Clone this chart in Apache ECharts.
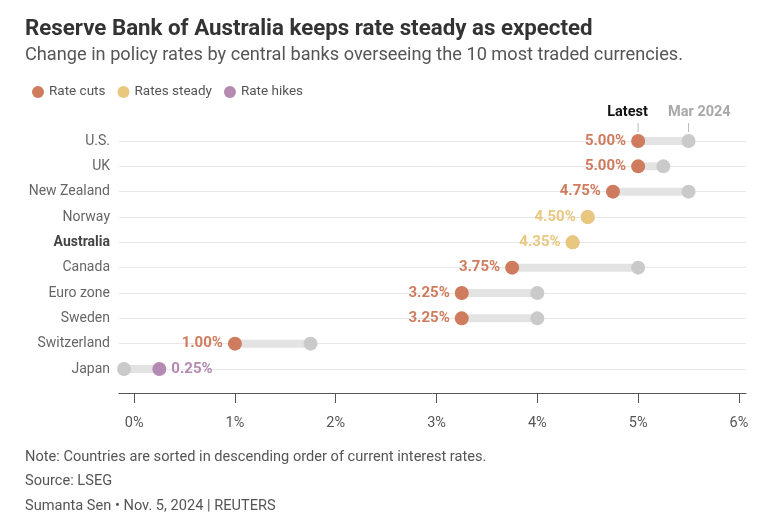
<!DOCTYPE html>
<html><head><meta charset="utf-8">
<script src="https://cdn.jsdelivr.net/npm/echarts@6/dist/echarts.min.js"></script>
<style>html,body{margin:0;padding:0;background:#fff;}#c{width:778px;height:531px;}</style>
</head><body><div id="c"></div>
<script>
const categories = ['U.S.','UK','New Zealand','Norway','Australia','Canada','Euro zone','Sweden','Switzerland','Japan'];
const latest = [5.00,5.00,4.75,4.50,4.35,3.75,3.25,3.25,1.00,0.25];
const mar2024 = [5.50,5.25,5.50,4.50,4.35,5.00,4.00,4.00,1.75,-0.10];
const xTicks = [0,1,2,3,4,5,6];
const groups = ['Rate cuts','Rates steady','Rate hikes'];
const groupColors = ['#cf7b5d','#e9c77e','#b58ab2'];
const highlight = 'Australia';
const annotations = ['Latest','Mar 2024'];
const titleText = 'Reserve Bank of Australia keeps rate steady as expected';
const subtitleText = 'Change in policy rates by central banks overseeing the 10 most traded currencies.';
const footerLines = ['Note: Countries are sorted in descending order of current interest rates.', 'Source: LSEG', 'Sumanta Sen \u2022 Nov. 5, 2024 | REUTERS'];

const FONT = 'Roboto';
const ctx = document.createElement('canvas').getContext('2d');
function fitSize(text, weight, target) {
  ctx.font = weight + ' 100px ' + FONT;
  return Math.round(100 * target / ctx.measureText(text).width * 10) / 10;
}
const titleSize = fitSize(titleText, 'bold', 567);
const subSize = fitSize(subtitleText, 'normal', 657);
const footSize = fitSize(footerLines[0], 'normal', 460);

function groupOf(i){ return latest[i] < mar2024[i] ? 0 : (latest[i] === mar2024[i] ? 1 : 2); }

const dotSeries = groups.map((g, gi) => ({
  name: g,
  type: 'scatter',
  symbol: 'circle',
  symbolSize: 14,
  clip: false,
  z: 5,
  itemStyle: { color: groupColors[gi], opacity: 1 },
  data: categories.map((c, i) => groupOf(i) === gi ? {
    value: [latest[i], c],
    label: {
      show: true,
      position: mar2024[i] < latest[i] ? 'right' : 'left',
      distance: 5,
      formatter: latest[i].toFixed(2) + '%',
      color: groupColors[gi],
      fontFamily: FONT, fontWeight: 'bold', fontSize: 15
    }
  } : null).filter(d => d)
}));

const option = {
  animation: false,
  textStyle: { fontFamily: FONT },
  grid: { left: 119, right: 32, top: 141, bottom: 162, containLabel: false },
  legend: {
    data: groups, left: 27, top: 80, icon: 'circle', itemWidth: 12, itemHeight: 12,
    itemGap: 12, textStyle: { fontFamily: FONT, fontSize: 13.5, color: '#555' },
    selectedMode: false
  },
  xAxis: {
    type: 'value', min: -0.15, max: 6.07, offset: 24,
    axisLine: { show: true, lineStyle: { color: '#555', width: 1 } },
    axisTick: { show: true, customValues: xTicks, length: 10, lineStyle: { color: '#555' } },
    axisLabel: { customValues: xTicks, formatter: v => v + '%', margin: 23, color: '#555', fontFamily: FONT, fontSize: 14.5 },
    splitLine: { show: false }
  },
  yAxis: {
    type: 'category', data: categories, inverse: true, boundaryGap: false,
    axisLine: { show: false }, axisTick: { show: false },
    axisLabel: {
      margin: 9, fontFamily: FONT, fontSize: 14, color: '#666',
      formatter: v => v === highlight ? '{b|' + v + '}' : v,
      rich: { b: { fontFamily: FONT, fontSize: 14, fontWeight: 'bold', color: '#444' } }
    },
    splitLine: { show: true, interval: 0, lineStyle: { color: '#e8e8e8', width: 1 } }
  },
  series: [
    {
      type: 'custom', name: 'range', z: 2, clip: false,
      encode: { x: [0, 1], y: 2 },
      data: categories.map((c, i) => [latest[i], mar2024[i], i]),
      renderItem: (params, api) => {
        const a = api.coord([api.value(0), api.value(2)]);
        const b = api.coord([api.value(1), api.value(2)]);
        const x0 = Math.min(a[0], b[0]), x1 = Math.max(a[0], b[0]);
        return { type: 'rect', shape: { x: x0, y: a[1] - 4, width: x1 - x0, height: 8 }, style: { fill: '#e3e3e3' } };
      }
    },
    {
      type: 'scatter', name: 'Mar 2024', symbol: 'circle', symbolSize: 14, clip: false, z: 4,
      itemStyle: { color: '#cacaca', opacity: 1 },
      data: categories.map((c, i) => [mar2024[i], c])
    },
    ...dotSeries,
    {
      type: 'custom', name: 'annot', z: 6, clip: false,
      encode: { x: 0, y: 1 },
      data: [[latest[0], 0, 0], [mar2024[0], 0, 1]],
      renderItem: (params, api) => {
        const p = api.coord([api.value(0), api.value(1)]);
        const k = api.value(2);
        return { type: 'group', children: [
          { type: 'line', shape: { x1: p[0], y1: p[1] - 18, x2: p[0], y2: p[1] - 9 }, style: { stroke: '#bbb', lineWidth: 1 } },
          { type: 'text', style: { text: annotations[k], x: p[0] + (k === 0 ? -10.6 : 10.8), y: p[1] - 28.4, align: 'center', verticalAlign: 'middle',
            font: 'bold 14.5px ' + FONT, fill: k === 0 ? '#111' : '#a8a8a8' } }
        ]};
      }
    }
  ],
  graphic: [
    { type: 'text', style: { text: titleText, x: 25, y: 29, verticalAlign: 'middle', font: 'bold ' + titleSize + 'px ' + FONT, fill: '#333' } },
    { type: 'text', style: { text: subtitleText, x: 25, y: 55, verticalAlign: 'middle', font: subSize + 'px ' + FONT, fill: '#555' } },
    { type: 'text', style: { text: footerLines[0], x: 25, y: 457, verticalAlign: 'middle', font: footSize + 'px ' + FONT, fill: '#555' } },
    { type: 'text', style: { text: footerLines[1], x: 25, y: 481.5, verticalAlign: 'middle', font: footSize + 'px ' + FONT, fill: '#555' } },
    { type: 'text', style: { text: footerLines[2], x: 25, y: 506, verticalAlign: 'middle', font: footSize + 'px ' + FONT, fill: '#555' } }
  ]
};
echarts.init(document.getElementById('c')).setOption(option);
</script></body></html>
